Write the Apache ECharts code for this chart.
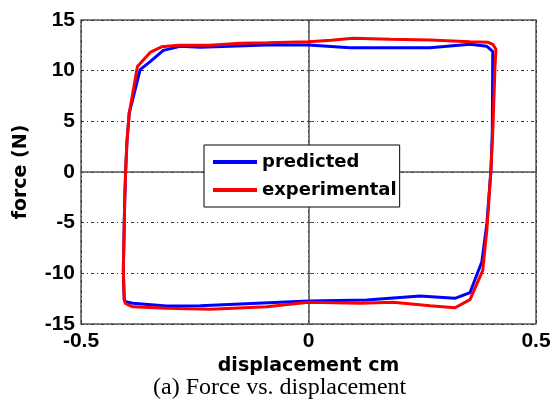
<!DOCTYPE html>
<html>
<head>
<meta charset="UTF-8">
<title>force vs displacement</title>
<script src="https://cdn.jsdelivr.net/npm/echarts@6/dist/echarts.min.js"></script>
<style>
  html, body { margin: 0; padding: 0; background: #fff; }
  #chart { width: 554px; height: 405px; }
</style>
</head>
<body>
<div id="chart"></div>
<script>
// loop traced clockwise: up the left side, across the top, down the right side, back along the bottom
var predicted = [
    [-0.405, -12.6], [-0.407, -9.7], [-0.404, -3], [-0.402, 0], [-0.399, 3], [-0.394, 5.8],
    [-0.370, 10.1], [-0.348, 10.9], [-0.319, 12.0], [-0.282, 12.4], [-0.238, 12.3],
    [-0.092, 12.53], [0, 12.53], [0.091, 12.27], [0.267, 12.27], [0.355, 12.6],
    [0.392, 12.4], [0.405, 11.9], [0.404, 4], [0.401, 0.2], [0.392, -5.1], [0.381, -8.85],
    [0.355, -11.9], [0.322, -12.47], [0.245, -12.24], [0.128, -12.63], [0, -12.73],
    [-0.238, -13.2], [-0.312, -13.22], [-0.386, -12.96], [-0.402, -12.8], [-0.405, -12.6]
];
var experimental = [
    [-0.405, -12.7], [-0.407, -9.7], [-0.404, -3], [-0.402, 0], [-0.399, 3], [-0.394, 5.8],
    [-0.376, 10.4], [-0.348, 11.8], [-0.323, 12.35], [-0.286, 12.5], [-0.216, 12.5],
    [-0.150, 12.7], [-0.090, 12.75], [0, 12.85], [0.050, 13.0], [0.098, 13.2], [0.180, 13.1],
    [0.267, 13.03], [0.355, 12.86], [0.395, 12.8], [0.405, 12.6], [0.412, 12.1], [0.410, 10.5],
    [0.405, 4], [0.401, 0.2], [0.392, -5.7], [0.383, -9.7], [0.355, -12.6], [0.322, -13.4],
    [0.267, -13.2], [0.186, -12.86], [0.113, -12.96], [0, -12.86], [-0.092, -13.3],
    [-0.216, -13.55], [-0.312, -13.45], [-0.386, -13.3], [-0.402, -13.0], [-0.405, -12.7]
];
var seriesNames = ['predicted', 'experimental'];
var xTicks = [-0.5, 0, 0.5];
var yTicks = [-15, -10, -5, 0, 5, 10, 15];

var chart = echarts.init(document.getElementById('chart'));

var gridDots = { color: '#333', width: 1, type: [3, 3, 1, 3] };
var frame = { show: true, lineStyle: { color: '#555', width: 1.5 } };
var tickFont = { color: '#000', fontFamily: 'Liberation Sans', fontWeight: 'bold', fontSize: 21 };
var nameFont = { color: '#000', fontFamily: 'DejaVu Sans', fontWeight: 'bold', fontSize: 19 };

var option = {
    animation: false,
    color: ['#0000ff', '#ff0000'],
    grid: { left: 81, right: 18, top: 20, bottom: 81, show: true, borderColor: '#555', borderWidth: 1.5 },
    legend: {
        data: seriesNames,
        orient: 'vertical',
        left: 204, top: 145,
        icon: 'rect',
        itemWidth: 44, itemHeight: 4,
        itemGap: 8,
        padding: [7, 3, 7, 9],
        backgroundColor: '#fff',
        borderColor: '#000',
        borderWidth: 1,
        borderRadius: 0,
        textStyle: { color: '#000', fontFamily: 'DejaVu Sans', fontWeight: 'bold', fontSize: 18, lineHeight: 20 }
    },
    xAxis: {
        type: 'value',
        min: xTicks[0], max: xTicks[xTicks.length - 1], interval: 0.5,
        name: 'displacement cm', nameLocation: 'middle', nameGap: 33,
        nameTextStyle: nameFont,
        axisLine: frame,
        axisTick: { show: true, inside: true, length: 5, lineStyle: { color: '#555' } },
        axisLabel: Object.assign({ margin: 7 }, tickFont),
        splitLine: { show: true, lineStyle: gridDots }
    },
    yAxis: {
        type: 'value',
        min: yTicks[0], max: yTicks[yTicks.length - 1], interval: 5,
        name: 'force (N)', nameLocation: 'middle', nameGap: 50,
        nameTextStyle: nameFont,
        axisLine: frame,
        axisTick: { show: true, inside: true, length: 5, lineStyle: { color: '#555' } },
        axisLabel: Object.assign({ margin: 6 }, tickFont),
        splitLine: { show: true, lineStyle: gridDots }
    },
    series: [
        { name: seriesNames[0], type: 'line', data: predicted, showSymbol: false, lineStyle: { width: 3 } },
        { name: seriesNames[1], type: 'line', data: experimental, showSymbol: false, lineStyle: { width: 3 } }
    ],
    graphic: [{
        type: 'text', left: 153, top: 376,
        style: { text: '(a) Force vs. displacement', fill: '#000', fontFamily: 'Liberation Serif', fontSize: 24 }
    }]
};
chart.setOption(option);
</script>
</body>
</html>
